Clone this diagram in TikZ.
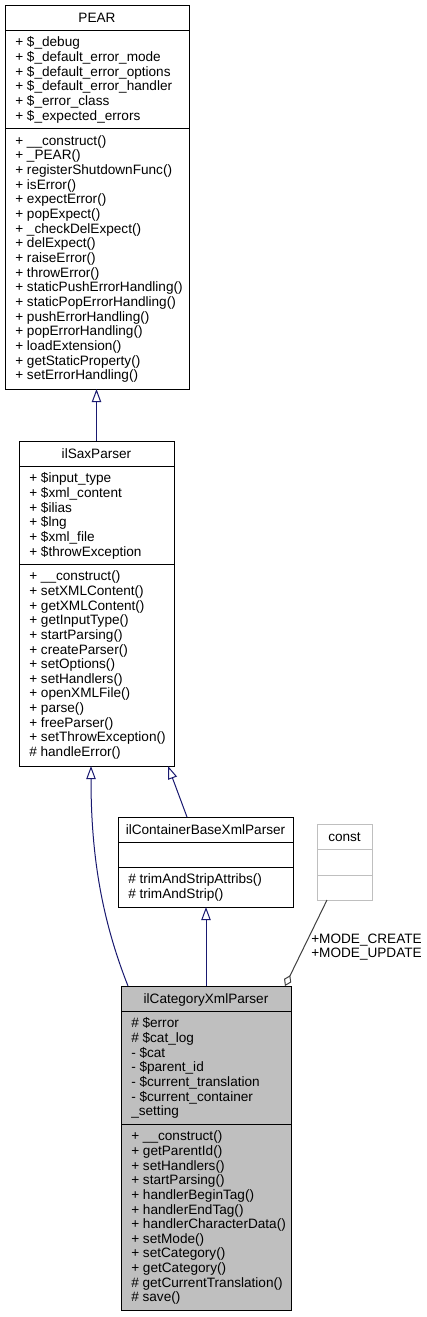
\documentclass[tikz,border=0pt]{standalone}
\usepackage{fontspec}
\setmainfont{Liberation Sans}
\usetikzlibrary{arrows.meta}
\definecolor{edgeblue}{HTML}{191970}
\definecolor{aggray}{HTML}{404040}
\definecolor{boxgray}{HTML}{BFBFBF}
\newcommand\cfont{\fontsize{10.2pt}{10.99pt}\selectfont}
\newcommand\fstrut{\rule{0pt}{8.6pt}}
\begin{document}
\begin{tikzpicture}[x=0.75pt,y=-0.75pt,
  cls/.style={draw=black, line width=0.75pt, fill=white, inner sep=0pt, outer sep=0pt, anchor=north west},
  sep/.style={line width=0.75pt},
  ttl/.style={anchor=base, inner sep=0pt, font=\cfont},
  txt/.style={anchor=north west, inner sep=0pt, align=left, font=\cfont},
  inh/.style={draw=edgeblue, line width=0.75pt, -{Triangle[open, length=9.75pt, width=7pt]}},
  agg/.style={draw=aggray, line width=0.75pt, {Diamond[open, length=9pt, width=6pt]}-}]
\fill[white] (0,0) rectangle (427,1317);
\useasboundingbox (0,0) rectangle (427,1317);

% PEAR
\node[cls, minimum width=138pt, minimum height=288pt] (pear) at (5,5) {};
\draw[sep] (5,30) -- (189,30);
\draw[sep] (5,128.5) -- (189,128.5);
\node[ttl] (pearT) at (97,22) {PEAR};
\node[txt] (pearA) at (15,35) {\fstrut+ \$\_debug\\+ \$\_default\_error\_mode\\+ \$\_default\_error\_options\\+ \$\_default\_error\_handler\\+ \$\_error\_class\\+ \$\_expected\_errors};
\node[txt] (pearM) at (15,133.5) {\fstrut+ \_\_construct()\\+ \_PEAR()\\+ registerShutdownFunc()\\+ isError()\\+ expectError()\\+ popExpect()\\+ \_checkDelExpect()\\+ delExpect()\\+ raiseError()\\+ throwError()\\+ staticPushErrorHandling()\\+ staticPopErrorHandling()\\+ pushErrorHandling()\\+ popErrorHandling()\\+ loadExtension()\\+ getStaticProperty()\\+ setErrorHandling()};

% ilSaxParser
\node[cls, minimum width=116.25pt, minimum height=243.75pt] (sax) at (19,441) {};
\draw[sep] (19,466) -- (174,466);
\draw[sep] (19,564) -- (174,564);
\node[ttl] (saxT) at (96.5,458) {ilSaxParser};
\node[txt] (saxA) at (29,471) {\fstrut+ \$input\_type\\+ \$xml\_content\\+ \$ilias\\+ \$lng\\+ \$xml\_file\\+ \$throwException};
\node[txt] (saxM) at (29,569) {\fstrut+ \_\_construct()\\+ setXMLContent()\\+ getXMLContent()\\+ getInputType()\\+ startParsing()\\+ createParser()\\+ setOptions()\\+ setHandlers()\\+ openXMLFile()\\+ parse()\\+ freeParser()\\+ setThrowException()\\\# handleError()};

% ilContainerBaseXmlParser
\node[cls, minimum width=131.25pt, minimum height=67.5pt] (cont) at (118,817) {};
\draw[sep] (118,842) -- (293,842);
\draw[sep] (118,867) -- (293,867);
\node[ttl] (contT) at (205.5,834) {ilContainerBaseXmlParser};
\node[txt] (contM) at (128,872) {\fstrut\# trimAndStripAttribs()\\\# trimAndStrip()};

% const
\node[cls, draw=boxgray, minimum width=41.25pt, minimum height=57pt] (const) at (317,824) {};
\draw[sep, boxgray] (317,849) -- (372,849);
\draw[sep, boxgray] (317,875) -- (372,875);
\node[ttl] (constT) at (344.5,841) {const};

% ilCategoryXmlParser
\node[cls, fill=boxgray, minimum width=127.5pt, minimum height=243pt] (cat) at (121,986) {};
\draw[sep] (121,1011) -- (291,1011);
\draw[sep] (121,1124) -- (291,1124);
\node[ttl] (catT) at (206,1003) {ilCategoryXmlParser};
\node[txt] (catA) at (131,1016) {\fstrut\# \$error\\\# \$cat\_log\\- \$cat\\- \$parent\_id\\- \$current\_translation\\- \$current\_container\\\_setting};
\node[txt] (catM) at (131,1129) {\fstrut+ \_\_construct()\\+ getParentId()\\+ setHandlers()\\+ startParsing()\\+ handlerBeginTag()\\+ handlerEndTag()\\+ handlerCharacterData()\\+ setMode()\\+ setCategory()\\+ getCategory()\\\# getCurrentTranslation()\\\# save()};

% connectors
\draw[inh] (sax.north) -- (sax.north |- pear.south);
\draw[inh] ([xshift=5.25pt]cat.north west) .. controls (100,915) and (91,850) .. ([xshift=54pt]sax.south west);
\draw[inh] ([xshift=51.75pt]cont.north west) -- ([xshift=111.75pt]sax.south west);
\draw[inh] (cat.north) -- (cat.north |- cont.south);
\draw[agg] ([xshift=123pt]cat.north west) -- ([xshift=7.5pt]const.south west);
\node[txt] (lbl) at (311,931.5) {\fstrut+MODE\_CREATE\\+MODE\_UPDATE};
\end{tikzpicture}
\end{document}
